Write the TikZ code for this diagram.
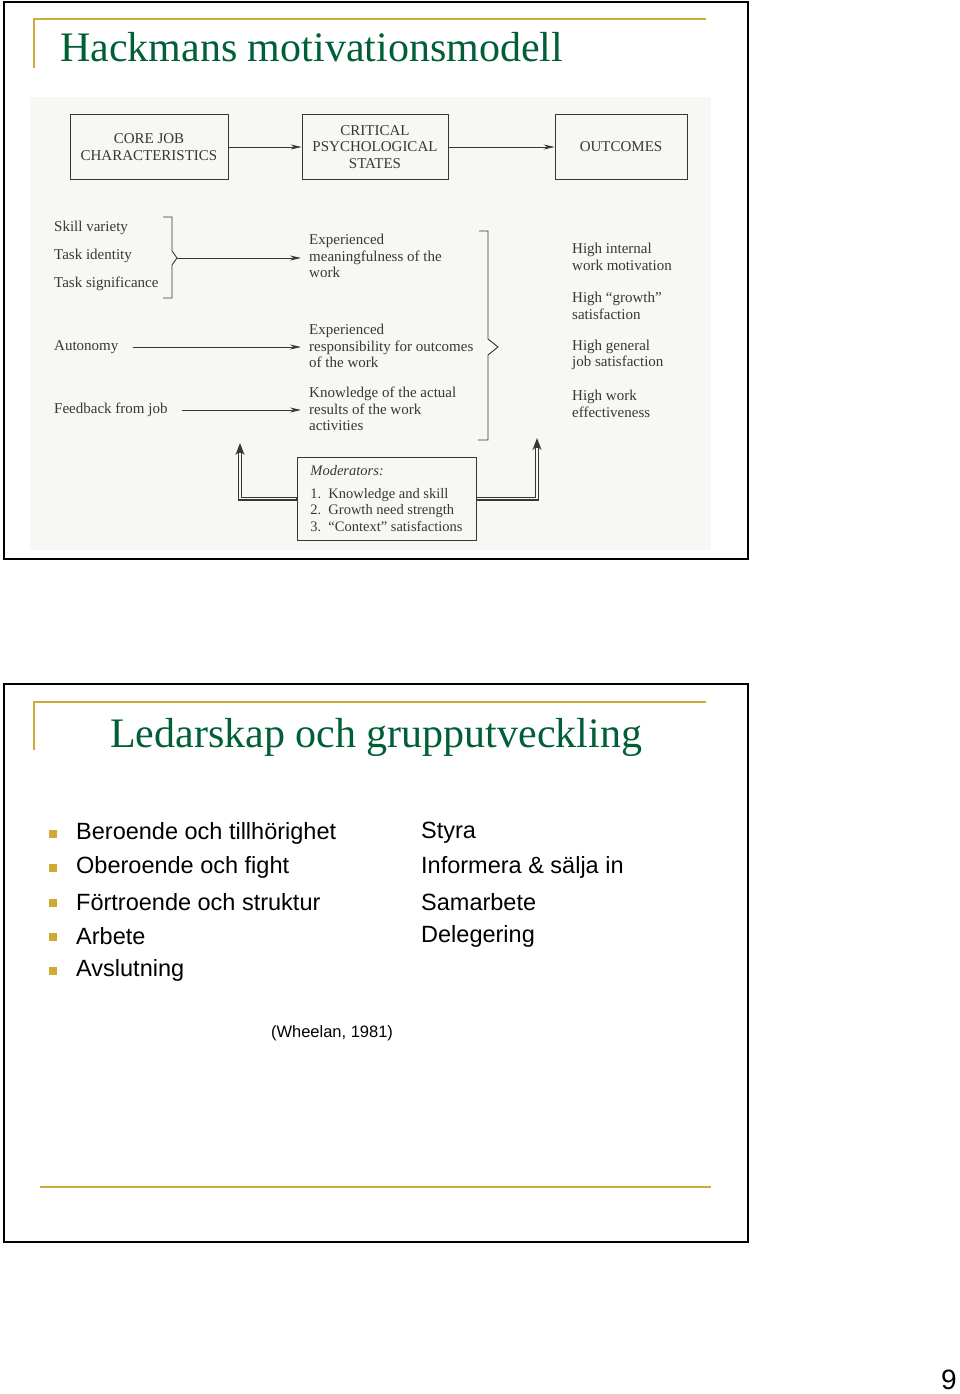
\documentclass[tikz,border=0pt]{standalone}
\usepackage{fontspec}
\setmainfont{Liberation Serif}
\setsansfont{Liberation Sans}
\usetikzlibrary{arrows.meta,positioning}
\definecolor{titlegreen}{RGB}{0,95,55}
\definecolor{rulegold}{RGB}{208,170,55}
\definecolor{scanbg}{RGB}{247,247,243}
\definecolor{inkgray}{RGB}{55,55,55}

\begin{document}
\begin{tikzpicture}[
    x=1pt, y=-1pt,
    slideframe/.style={draw=black, line width=1.8pt},
    goldrule/.style={draw=rulegold, line width=1.8pt},
    slidetitle/.style={text=titlegreen, font=\fontsize{42}{46}\selectfont, anchor=west, inner sep=0pt},
    headbox/.style={rectangle, draw=inkgray, line width=0.8pt, minimum height=65pt, align=center, text=inkgray, font=\fontsize{15}{16.5}\selectfont, inner sep=2pt},
    diagtext/.style={anchor=west, align=left, text=inkgray, font=\fontsize{15}{16.5}\selectfont, inner sep=0pt},
    flow/.style={draw=inkgray, line width=0.8pt, -{Stealth[length=11pt,width=5pt]}},
    feed/.style={flow, shorten <=14pt, shorten >=8pt},
    bracketline/.style={draw=inkgray, line width=0.9pt},
    modouter/.style={draw=inkgray, line width=4pt, -{Stealth[length=12pt,width=9pt]}},
    modinner/.style={draw=scanbg, line width=1.8pt, shorten <=1pt, shorten >=10pt},
    goldbullet/.style={rectangle, fill=rulegold, minimum size=8pt, inner sep=0pt},
    bullettext/.style={anchor=west, inner sep=0pt, font=\sffamily\fontsize{23.5}{28}\selectfont}
]
\useasboundingbox (0,0) rectangle (960,1394);

% Slide 1 frame
\draw[slideframe] (4,2) rectangle (748,559);
\draw[goldrule] (34,68) -- (34,19) -- (706,19);
\node[slidetitle] (title1) at (60,47) {Hackmans motivationsmodell};

% Scanned figure
\fill[scanbg] (30,97) rectangle (711,550);

% Head row
\node[headbox, minimum width=158pt] (core) at (149,147) {CORE JOB\\CHARACTERISTICS};
\node[headbox, minimum width=146pt] (critical) at (375,147) {CRITICAL\\PSYCHOLOGICAL\\STATES};
\node[headbox, minimum width=132pt] (outcomes) at (621,147) {OUTCOMES};
\draw[flow] (core) -- (critical);
\draw[flow] (critical) -- (outcomes);

% Core job characteristics
\node[diagtext] (skill) at (54,228) {Skill variety};
\node[diagtext] (identity) at (54,256) {Task identity};
\node[diagtext] (significance) at (54,284) {Task significance};
\node[diagtext] (autonomy) at (54,347) {Autonomy};
\node[diagtext] (feedback) at (54,410) {Feedback from job};

% Psychological states
\node[diagtext] (meaning) at (309,256) {Experienced\\meaningfulness of the\\work};
\node[diagtext] (respons) at (309,346) {Experienced\\responsibility for outcomes\\of the work};
\node[diagtext] (knowledge) at (309,409) {Knowledge of the actual\\results of the work\\activities};

% Outcomes
\node[diagtext] (motivation) at (572,257) {High internal\\work motivation};
\node[diagtext] (growth) at (572,306) {High ``growth''\\satisfaction};
\node[diagtext] (general) at (572,355) {High general\\job satisfaction};
\node[diagtext] (effective) at (572,404) {High work\\effectiveness};

% Brackets
\coordinate (tipL) at (177,258);
\coordinate (tipR) at (498,347);
\draw[bracketline] (163,217) -- (172,217) -- (172,251) -- (tipL) -- (172,265) -- (172,298) -- (163,298);
\draw[bracketline] (479,231) -- (488,231) -- (488,339) -- (tipR) -- (488,355) -- (488,440) -- (478,440);

% Arrows - states
\draw[flow, shorten >=8pt] (tipL) -- (tipL -| meaning.west);
\draw[feed] (autonomy.east) -- (autonomy.east -| respons.west);
\draw[feed] (feedback.east) -- (feedback.east -| knowledge.west);

% Moderators
\node[rectangle, draw=inkgray, line width=0.8pt, fill=scanbg, minimum width=179pt, minimum height=83pt, align=left, inner sep=4pt, text=inkgray, font=\fontsize{14.5}{16.5}\selectfont] (moderators) at (386.5,498.5)
  {\textit{Moderators:}\\[6pt]\makebox[18pt][l]{1.}Knowledge and skill\\\makebox[18pt][l]{2.}Growth need strength\\\makebox[18pt][l]{3.}``Context'' satisfactions};
\coordinate (modL) at (240,443);
\coordinate (modR) at (537,438);
\draw[modouter] (moderators.west) -| (modL);
\draw[modinner] (moderators.west) -| (modL);
\draw[modouter] (moderators.east) -| (modR);
\draw[modinner] (moderators.east) -| (modR);

% Slide 2 frame
\draw[slideframe] (4,684) rectangle (748,1242);
\draw[goldrule] (34,750) -- (34,702) -- (706,702);
\node[slidetitle] (title2) at (110,737) {Ledarskap och grupputveckling};

% Stages
\node[goldbullet] (b1) at (53,834) {};
\node[goldbullet] (b2) at (53,868) {};
\node[goldbullet] (b3) at (53,903) {};
\node[goldbullet] (b4) at (53,937) {};
\node[goldbullet] (b5) at (53,971) {};
\node[bullettext] (stage1) at (76,833) {Beroende och tillhörighet};
\node[bullettext] (stage2) at (76,867) {Oberoende och fight};
\node[bullettext] (stage3) at (76,902) {Förtroende och struktur};
\node[bullettext] (stage4) at (76,936) {Arbete};
\node[bullettext] (stage5) at (76,970) {Avslutning};

% Leadership styles
\node[bullettext] (lead1) at (421,833) {Styra};
\node[bullettext] (lead2) at (421,867) {Informera \& sälja in};
\node[bullettext] (lead3) at (421,902) {Samarbete};
\node[bullettext] (lead4) at (421,936) {Delegering};

\node[font=\sffamily\fontsize{16.5}{20}\selectfont, inner sep=0pt] (source) at (332,1033) {(Wheelan, 1981)};
\draw[goldrule] (40,1187) -- (711,1187);

% Page number
\node[font=\sffamily\fontsize{28}{32}\selectfont, inner sep=0pt] (pagenum) at (949,1380) {9};

\end{tikzpicture}
\end{document}
